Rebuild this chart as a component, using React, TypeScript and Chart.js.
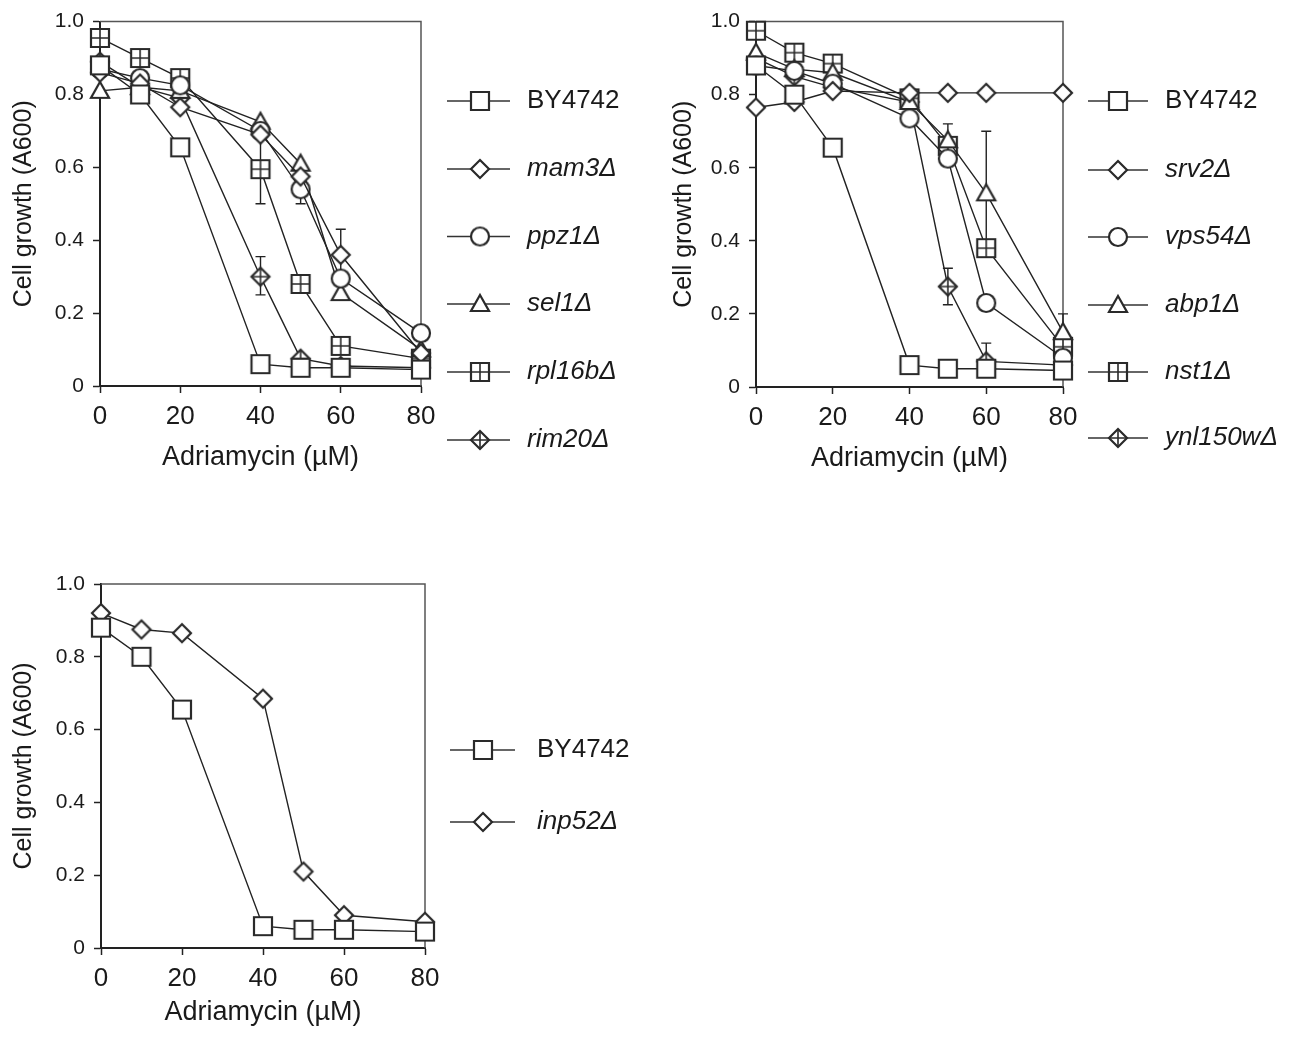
import React, { useEffect, useRef } from 'react';
import { Chart, registerables } from 'chart.js';

Chart.register(...registerables);

// ---------------- data ----------------
const concentrations = [0, 10, 20, 40, 50, 60, 80];
const xTickValues = [0, 20, 40, 60, 80];
const yTickValues = [0, 0.2, 0.4, 0.6, 0.8, 1.0];

const xTitle = 'Adriamycin (µM)';
const yTitle = 'Cell growth (A600)';

const by4742 = [0.88, 0.8, 0.655, 0.06, 0.05, 0.05, 0.045];

// panel 1
const mam3 = [0.86, 0.83, 0.765, 0.69, 0.575, 0.36, 0.09];
const ppz1 = [0.87, 0.845, 0.825, 0.7, 0.54, 0.295, 0.145];
const sel1 = [0.81, 0.82, 0.81, 0.725, 0.61, 0.255, 0.1];
const rpl16b = [0.955, 0.9, 0.845, 0.595, 0.28, 0.11, 0.075];
const rim20 = [0.89, 0.82, 0.79, 0.3, 0.075, 0.055, 0.05];

// panel 2
const srv2 = [0.765, 0.78, 0.81, 0.805, 0.805, 0.805, 0.805];
const vps54 = [0.88, 0.865, 0.83, 0.735, 0.625, 0.23, 0.08];
const abp1 = [0.915, 0.87, 0.86, 0.78, 0.675, 0.53, 0.15];
const nst1 = [0.975, 0.915, 0.885, 0.79, 0.66, 0.38, 0.11];
const ynl150w = [0.9, 0.85, 0.82, 0.78, 0.275, 0.07, 0.06];

// panel 3
const inp52 = [0.92, 0.875, 0.865, 0.685, 0.21, 0.09, 0.072];

// error bars: [series label, concentration, low, high]
const errors1: [string, number, number, number][] = [
  ['rpl16bΔ', 40, 0.5, 0.69],
  ['rim20Δ', 40, 0.25, 0.355],
  ['ppz1Δ', 50, 0.5, 0.58],
  ['mam3Δ', 60, 0.29, 0.43],
];
const errors2: [string, number, number, number][] = [
  ['abp1Δ', 50, 0.63, 0.72],
  ['abp1Δ', 60, 0.36, 0.7],
  ['ynl150wΔ', 50, 0.225, 0.325],
  ['ynl150wΔ', 60, 0.03, 0.12],
  ['abp1Δ', 80, 0.1, 0.2],
];
const errors3: [string, number, number, number][] = [];

// ---------------- styling helpers ----------------
const FONT = "'Liberation Sans', Arial, Helvetica, sans-serif";
const INK = '#1a1a1a';

type MarkerKind = 'square' | 'diamond' | 'circle' | 'triangle' | 'squareCross' | 'diamondCross';

function makeMarker(kind: MarkerKind): HTMLCanvasElement {
  const c = document.createElement('canvas');
  c.width = 26;
  c.height = 26;
  const ctx = c.getContext('2d')!;
  const m = 13;
  ctx.lineWidth = 2.2;
  ctx.strokeStyle = '#2a2a2a';
  ctx.fillStyle = '#fff';
  ctx.beginPath();
  if (kind === 'square' || kind === 'squareCross') {
    ctx.rect(m - 9, m - 9, 18, 18);
  } else if (kind === 'diamond' || kind === 'diamondCross') {
    ctx.moveTo(m, m - 9);
    ctx.lineTo(m + 9, m);
    ctx.lineTo(m, m + 9);
    ctx.lineTo(m - 9, m);
    ctx.closePath();
  } else if (kind === 'circle') {
    ctx.arc(m, m, 9, 0, Math.PI * 2);
  } else {
    ctx.moveTo(m, m - 9);
    ctx.lineTo(m + 9, m + 7);
    ctx.lineTo(m - 9, m + 7);
    ctx.closePath();
  }
  ctx.fill();
  ctx.stroke();
  if (kind === 'squareCross' || kind === 'diamondCross') {
    ctx.lineWidth = 1.6;
    ctx.beginPath();
    ctx.moveTo(m, m - 9);
    ctx.lineTo(m, m + 9);
    ctx.moveTo(m - 9, m);
    ctx.lineTo(m + 9, m);
    ctx.stroke();
  }
  return c;
}

type Series = { label: string; values: number[]; marker: MarkerKind; italic: boolean };

const framePlugin = {
  id: 'frameAndErrors',
  beforeDatasetsDraw(chart: any, _args: any, opts: any) {
    const { ctx, chartArea } = chart;
    const { left, right, top, bottom } = chartArea;
    ctx.save();
    ctx.strokeStyle = '#555';
    ctx.lineWidth = 1.5;
    ctx.beginPath();
    ctx.moveTo(left, top);
    ctx.lineTo(right, top);
    ctx.lineTo(right, bottom);
    ctx.stroke();

    const xs = chart.scales.x;
    const ys = chart.scales.y;
    ctx.strokeStyle = '#222';
    ctx.lineWidth = 1.4;
    (opts.items || []).forEach((e: [string, number, number, number]) => {
      const px = xs.getPixelForValue(e[1]);
      const pLo = ys.getPixelForValue(e[2]);
      const pHi = ys.getPixelForValue(e[3]);
      ctx.beginPath();
      ctx.moveTo(px, pLo);
      ctx.lineTo(px, pHi);
      ctx.moveTo(px - 5, pLo);
      ctx.lineTo(px + 5, pLo);
      ctx.moveTo(px - 5, pHi);
      ctx.lineTo(px + 5, pHi);
      ctx.stroke();
    });
    ctx.restore();
  },
};

const legendPlugin = {
  id: 'sideLegend',
  afterDraw(chart: any, _args: any, opts: any) {
    const ctx = chart.ctx;
    chart.data.datasets.forEach((ds: any, i: number) => {
      const y = opts.rows[i];
      ctx.save();
      ctx.strokeStyle = '#333';
      ctx.lineWidth = 1.5;
      ctx.beginPath();
      ctx.moveTo(opts.lineStart, y);
      ctx.lineTo(opts.lineEnd, y);
      ctx.stroke();
      const img = ds.pointStyle as HTMLCanvasElement;
      ctx.drawImage(img, opts.markerX - img.width / 2, y - img.height / 2);
      ctx.fillStyle = INK;
      ctx.font = `${ds.italicLabel ? 'italic ' : ''}26px ${FONT}`;
      ctx.textBaseline = 'middle';
      ctx.textAlign = 'left';
      ctx.fillText(ds.label, opts.textX, y);
      ctx.restore();
    });
  },
};

type Geometry = {
  left: number;
  top: number;
  width: number;
  height: number;
  padding: { top: number; right: number; bottom: number; left: number };
  yWidth: number;
  xHeight: number;
  xTitlePad: number;
  legend: { lineStart: number; lineEnd: number; markerX: number; textX: number; rows: number[] };
};

function buildConfig(series: Series[], errors: [string, number, number, number][], g: Geometry): any {
  return {
    type: 'line',
    data: {
      datasets: series.map((s) => ({
        label: s.label,
        italicLabel: s.italic,
        data: concentrations.map((x, i) => ({ x, y: s.values[i] })),
        borderColor: '#222',
        borderWidth: 1.4,
        pointStyle: makeMarker(s.marker),
        pointRadius: 9,
        pointHoverRadius: 9,
        tension: 0,
        fill: false,
        clip: false,
      })),
    },
    options: {
      animation: false,
      responsive: false,
      devicePixelRatio: 1,
      events: [],
      layout: { padding: g.padding },
      plugins: {
        legend: { display: false },
        tooltip: { enabled: false },
        frameAndErrors: { items: errors },
        sideLegend: g.legend,
      },
      scales: {
        x: {
          type: 'linear',
          min: 0,
          max: 80,
          afterBuildTicks: (s: any) => {
            s.ticks = xTickValues.map((v) => ({ value: v }));
          },
          afterFit: (s: any) => {
            s.height = g.xHeight;
          },
          ticks: {
            color: INK,
            font: { family: FONT, size: 26 },
            padding: 8,
            maxRotation: 0,
            callback: (v: any) => String(v),
          },
          grid: {
            drawOnChartArea: false,
            drawTicks: true,
            tickLength: 7,
            tickWidth: 1.5,
            tickColor: '#222',
          },
          border: { display: true, color: '#222', width: 2 },
          title: {
            display: true,
            text: xTitle,
            color: INK,
            font: { family: FONT, size: 27 },
            padding: { top: 0, bottom: g.xTitlePad },
          },
        },
        y: {
          type: 'linear',
          min: 0,
          max: 1,
          afterBuildTicks: (s: any) => {
            s.ticks = yTickValues.map((v) => ({ value: v }));
          },
          afterFit: (s: any) => {
            s.width = g.yWidth;
          },
          ticks: {
            color: INK,
            font: { family: FONT, size: 21 },
            padding: 9,
            callback: (v: any) => (Number(v) === 0 ? '0' : Number(v).toFixed(1)),
          },
          grid: {
            drawOnChartArea: false,
            drawTicks: true,
            tickLength: 7,
            tickWidth: 1.5,
            tickColor: '#222',
          },
          border: { display: true, color: '#222', width: 2 },
          title: {
            display: true,
            text: yTitle,
            color: INK,
            font: { family: FONT, size: 25 },
            padding: { top: 9, bottom: 0 },
          },
        },
      },
    },
    plugins: [framePlugin, legendPlugin],
  };
}

const panel1Series: Series[] = [
  { label: 'BY4742', values: by4742, marker: 'square', italic: false },
  { label: 'mam3Δ', values: mam3, marker: 'diamond', italic: true },
  { label: 'ppz1Δ', values: ppz1, marker: 'circle', italic: true },
  { label: 'sel1Δ', values: sel1, marker: 'triangle', italic: true },
  { label: 'rpl16bΔ', values: rpl16b, marker: 'squareCross', italic: true },
  { label: 'rim20Δ', values: rim20, marker: 'diamondCross', italic: true },
];
const panel2Series: Series[] = [
  { label: 'BY4742', values: by4742, marker: 'square', italic: false },
  { label: 'srv2Δ', values: srv2, marker: 'diamond', italic: true },
  { label: 'vps54Δ', values: vps54, marker: 'circle', italic: true },
  { label: 'abp1Δ', values: abp1, marker: 'triangle', italic: true },
  { label: 'nst1Δ', values: nst1, marker: 'squareCross', italic: true },
  { label: 'ynl150wΔ', values: ynl150w, marker: 'diamondCross', italic: true },
];
const panel3Series: Series[] = [
  { label: 'BY4742', values: by4742, marker: 'square', italic: false },
  { label: 'inp52Δ', values: inp52, marker: 'diamond', italic: true },
];

const sixRows = [101, 169, 236.5, 304, 372, 440];

const geom1: Geometry = {
  left: 0,
  top: 0,
  width: 660,
  height: 500,
  padding: { top: 20, right: 239, bottom: 14, left: 0 },
  yWidth: 100,
  xHeight: 100,
  xTitlePad: 12,
  legend: { lineStart: 447, lineEnd: 510, markerX: 480, textX: 527, rows: sixRows },
};
const geom2: Geometry = {
  left: 660,
  top: 0,
  width: 651,
  height: 500,
  padding: { top: 20, right: 248, bottom: 13, left: 0 },
  yWidth: 96,
  xHeight: 100,
  xTitlePad: 12,
  legend: { lineStart: 428, lineEnd: 488, markerX: 458, textX: 505, rows: [101, 170, 237, 305, 372, 438] },
};
const geom3: Geometry = {
  left: 0,
  top: 560,
  width: 660,
  height: 483,
  padding: { top: 24, right: 235, bottom: 5, left: 0 },
  yWidth: 101,
  xHeight: 90,
  xTitlePad: 9,
  legend: { lineStart: 450, lineEnd: 515, markerX: 483, textX: 537, rows: [190, 262] },
};

function Panel({ series, errors, g }: { series: Series[]; errors: [string, number, number, number][]; g: Geometry }) {
  const ref = useRef<HTMLCanvasElement>(null);
  useEffect(() => {
    const chart = new Chart(ref.current!, buildConfig(series, errors, g));
    return () => chart.destroy();
  }, []);
  return (
    <canvas
      ref={ref}
      width={g.width}
      height={g.height}
      style={{ position: 'absolute', left: g.left, top: g.top, width: g.width, height: g.height }}
    />
  );
}

export default function App() {
  return (
    <div style={{ position: 'absolute', left: 0, top: 0, width: 1311, height: 1043, background: '#fff' }}>
      <Panel series={panel1Series} errors={errors1} g={geom1} />
      <Panel series={panel2Series} errors={errors2} g={geom2} />
      <Panel series={panel3Series} errors={errors3} g={geom3} />
    </div>
  );
}
